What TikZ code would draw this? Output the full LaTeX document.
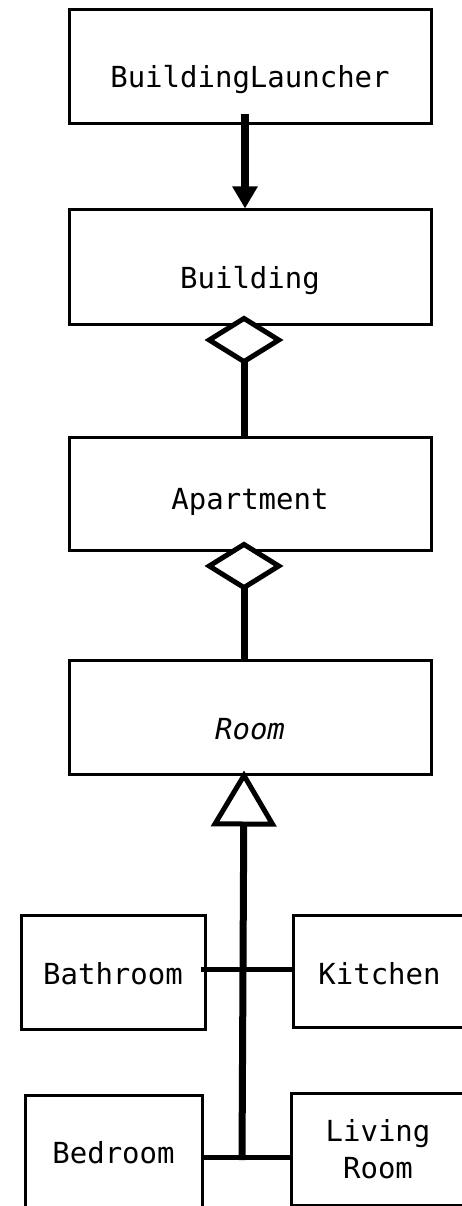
\documentclass[tikz,border=0pt]{standalone}
\usepackage{fontspec}
\setmonofont{DejaVu Sans Mono}
\usetikzlibrary{arrows.meta}
\begin{document}
\begin{tikzpicture}[x=1pt, y=-1pt,
  classbox/.style={draw, line width=3pt, rectangle, inner sep=0pt,
    font=\ttfamily\fontsize{29}{37}\selectfont, text depth=0pt},
  assoc/.style={line width=8pt, -{Triangle[length=22pt, width=24pt]}},
  aggr/.style={line width=7pt,
    -{Diamond[fill=white, line width=5pt, length=49pt, width=79pt]}, shorten >=-10pt},
  gen/.style={line width=7pt,
    -{Triangle[fill=white, line width=5pt, length=56pt, width=65pt]}, shorten >=-5pt},
  branch/.style={line width=5pt}]
\useasboundingbox (0,0) rectangle (462,1206);
\clip (0,0) rectangle (462,1206);

% classes
\node[classbox, minimum width=362pt, minimum height=114pt, text height=42pt]
  (launcher) at (250,67) {BuildingLauncher};
\node[classbox, minimum width=362pt, minimum height=114pt, text height=42pt]
  (building) at (250,267) {Building};
\node[classbox, minimum width=362pt, minimum height=113pt, text height=31pt]
  (apartment) at (250,493.5) {Apartment};
\node[classbox, minimum width=362pt, minimum height=114pt, text height=44pt,
  font=\ttfamily\itshape\fontsize{29}{37}\selectfont]
  (room) at (250,717) {Room};
\node[classbox, minimum width=184pt, minimum height=114pt, text height=24pt]
  (bathroom) at (113,972) {Bathroom};
\node[classbox, minimum width=173pt, minimum height=112pt, text height=26pt]
  (kitchen) at (379.5,971) {Kitchen};
\node[classbox, minimum width=177pt, minimum height=135pt, text height=1pt]
  (bedroom) at (113.5,1162.5) {Bedroom};
\node[draw, line width=3pt, rectangle, inner sep=0pt, align=center,
  font=\ttfamily\fontsize{29}{37}\selectfont,
  minimum width=174pt, minimum height=112pt]
  (living) at (378,1149) {Living\\Room};

% relations
\draw[assoc] ([shift={(-5,-11)}]launcher.south) -- ([xshift=-5pt]building.north);
\draw[aggr] ([xshift=-6pt]apartment.north) -- ([xshift=-6pt]building.south);
\draw[aggr] ([xshift=-6pt]room.north) -- ([xshift=-6pt]apartment.south);

\coordinate (spine-foot) at (242,1160);
\draw[gen] (spine-foot) -- ([xshift=-6pt]room.south);
\draw[branch] ([shift={(-6,-3)}]bathroom.east) -- ([yshift=2pt]kitchen.west);
\draw[branch] ([shift={(-3,-5.5)}]bedroom.east) -- ([yshift=-8pt]living.west);
\end{tikzpicture}
\end{document}
